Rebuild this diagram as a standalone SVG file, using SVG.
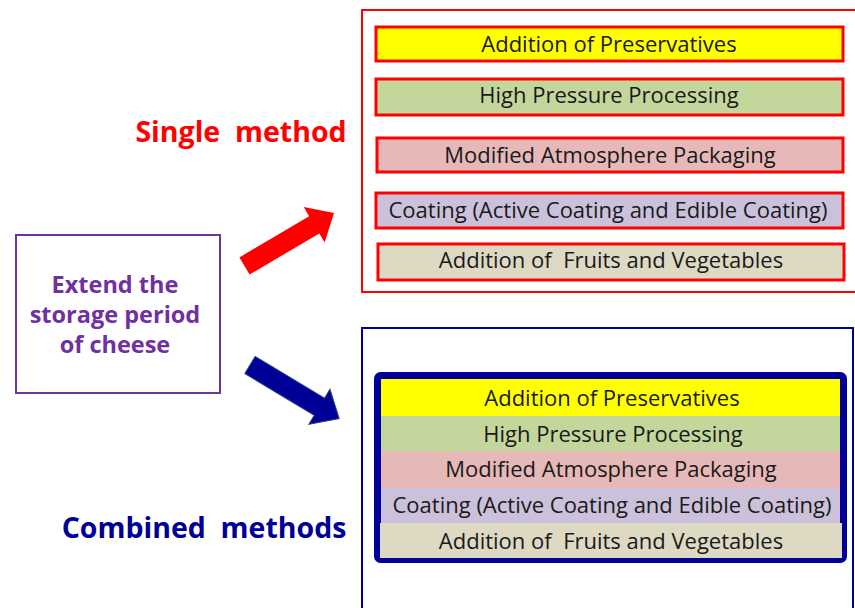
<svg xmlns="http://www.w3.org/2000/svg" width="855" height="608" viewBox="0 0 855 608">
<style>
text{white-space:pre}
.t{font-family:"Open Sans","Noto Sans","Liberation Sans",sans-serif;font-size:22px;fill:#1a1a1a;text-anchor:middle}
.ib{stroke:#FF0000;stroke-width:3}
.lbl{font-family:"Open Sans","Noto Sans","Liberation Sans",sans-serif;font-weight:bold;font-size:28.5px}
</style>
<rect width="855" height="608" fill="#fff"/>
<g id="source">
<rect x="16" y="235" width="204" height="158" fill="#fff" stroke="#7030A0" stroke-width="2"/>
<text font-family="Open Sans,Noto Sans,Liberation Sans,sans-serif" font-weight="bold" font-size="23.5" fill="#7030A0" text-anchor="middle">
<tspan x="118" y="293">Extend the</tspan>
<tspan x="118" y="323">storage period</tspan>
<tspan x="118" y="353">of cheese</tspan>
</text>
</g>
<g id="connectors">
<polygon transform="translate(244.5,266) rotate(-30.6)" points="0,-10 81,-10 81,-20.5 104,0 81,20.5 81,10 0,10" fill="#FF0000"/>
<polygon transform="translate(250,365) rotate(31)" points="0,-10 81,-10 81,-20.5 104,0 81,20.5 81,10 0,10" fill="#000099" stroke="#1F3F7F" stroke-width="1"/>
</g>
<g id="single">
<text class="lbl" x="241" y="142" fill="#FF0000" text-anchor="middle">Single  method</text>
<rect x="362" y="10" width="500" height="282" fill="#fff" stroke="#FF0000" stroke-width="2"/>
<g id="s1"><rect class="ib" x="376" y="27" width="467" height="34" fill="#FFFF00"/><text class="t" x="609" y="52">Addition of Preservatives</text></g>
<g id="s2"><rect class="ib" x="376" y="79" width="467" height="36" fill="#C3D69B"/><text class="t" x="609" y="103">High Pressure Processing</text></g>
<g id="s3"><rect class="ib" x="377" y="138" width="466" height="34" fill="#E6B9B8"/><text class="t" x="610" y="163">Modified Atmosphere Packaging</text></g>
<g id="s4"><rect class="ib" x="376" y="193" width="467" height="35" fill="#CCC1DA"/><text class="t" x="608" y="218">Coating (Active Coating and Edible Coating)</text></g>
<g id="s5"><rect class="ib" x="378" y="244" width="466" height="36" fill="#DDD9C3"/><text class="t" x="611" y="268">Addition of  Fruits and Vegetables</text></g>
</g>
<g id="combined">
<text class="lbl" x="204" y="538" fill="#000099" text-anchor="middle">Combined  methods</text>
<rect x="362" y="328" width="491" height="290" fill="#fff" stroke="#000099" stroke-width="2"/>
<rect x="377.5" y="375.5" width="466" height="184" rx="3" fill="#fff" stroke="#000099" stroke-width="7"/>
<g id="c1"><rect x="381" y="379" width="459" height="37" fill="#FFFF00"/><text class="t" x="612" y="406">Addition of Preservatives</text></g>
<g id="c2"><rect x="381" y="416" width="459" height="35" fill="#C3D69B"/><text class="t" x="613" y="442">High Pressure Processing</text></g>
<g id="c3"><rect x="381" y="451" width="459" height="37" fill="#E6B9B8"/><text class="t" x="611" y="477">Modified Atmosphere Packaging</text></g>
<g id="c4"><rect x="381" y="488" width="459" height="35" fill="#CCC1DA"/><text class="t" x="612" y="513">Coating (Active Coating and Edible Coating)</text></g>
<g id="c5"><rect x="380" y="523" width="462" height="35" fill="#DDD9C3"/><text class="t" x="611" y="549">Addition of  Fruits and Vegetables</text></g>
</g>
</svg>
